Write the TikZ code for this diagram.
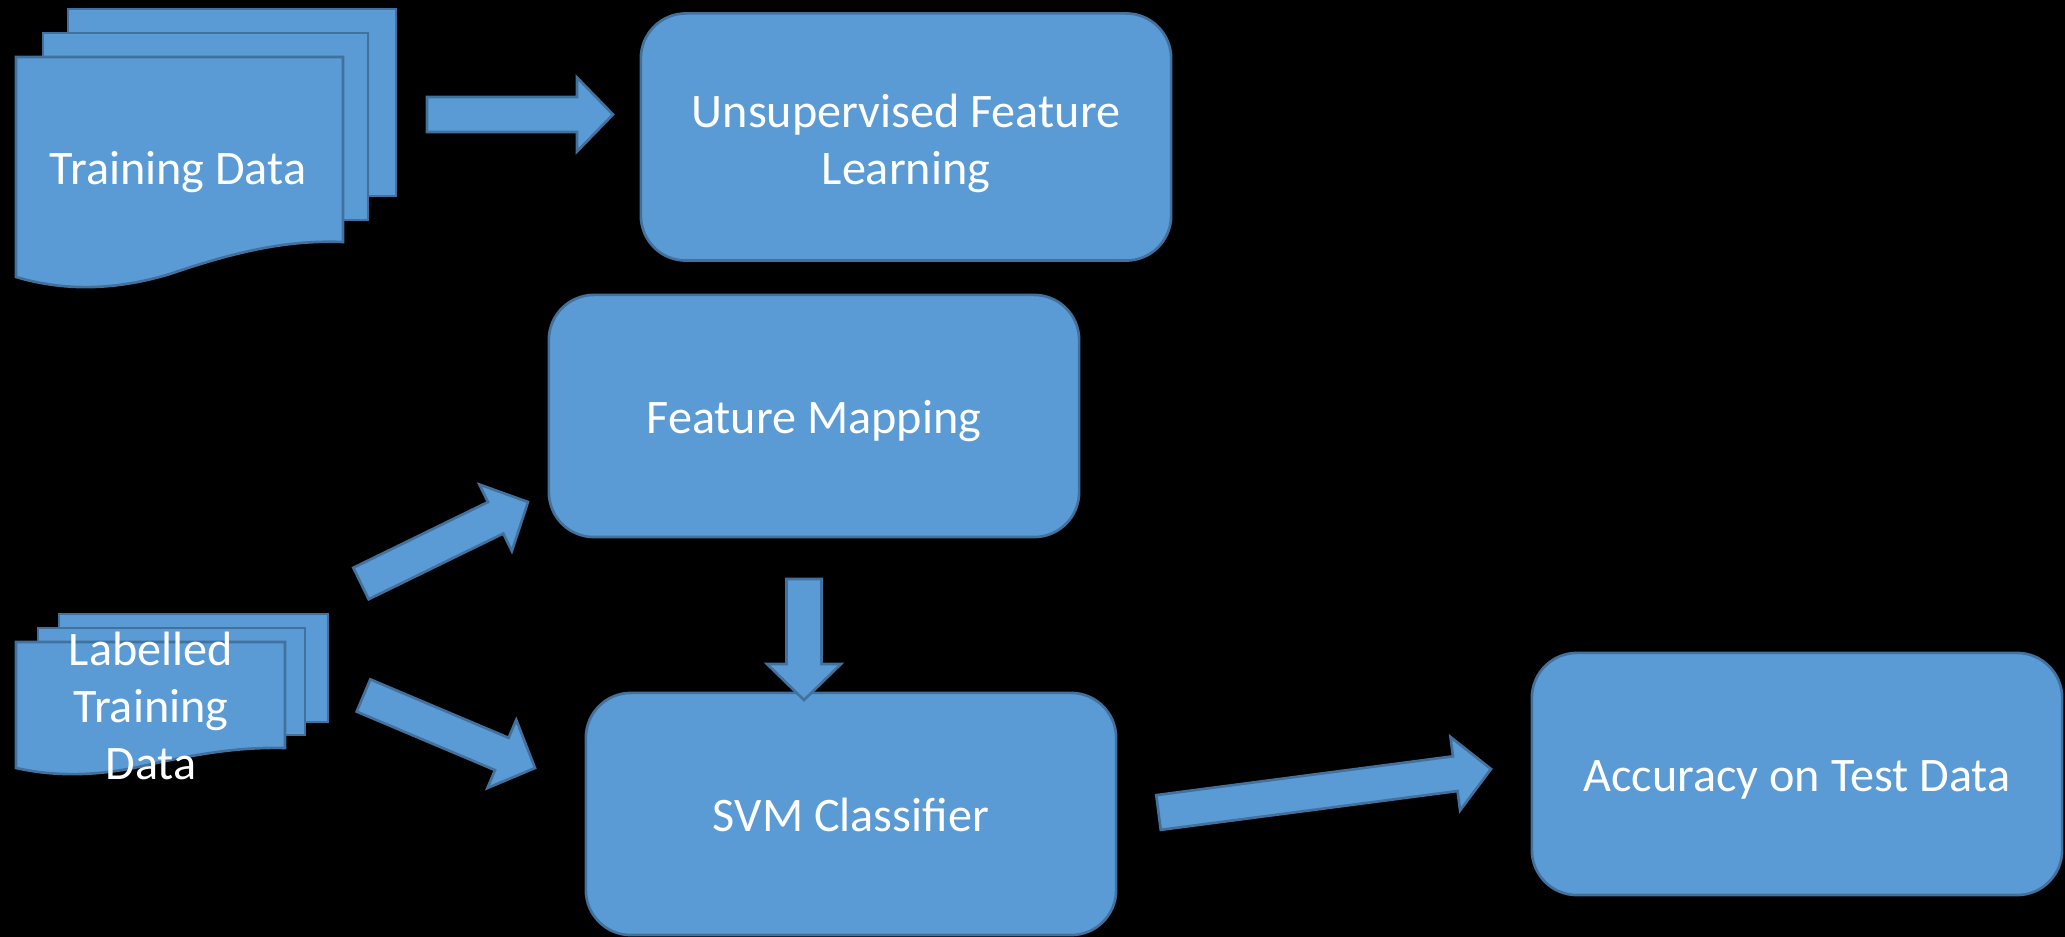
\documentclass[tikz,border=0pt]{standalone}
\usepackage{fontspec}
\setmainfont{Carlito}
\usetikzlibrary{calc}

\definecolor{boxfill}{HTML}{5B9BD5}
\definecolor{boxline}{HTML}{41719C}

% block arrow from #1 to #2
\newcommand{\bigarrow}[2]{%
  \coordinate (neck) at ($(#2)!0.36cm!(#1)$);
  \draw[flow] ($(#1)!0.175cm!90:(#2)$) -- ($(neck)!0.175cm!90:(#2)$)
    -- ($(neck)!0.37cm!90:(#2)$) -- (#2) -- ($(neck)!0.37cm!-90:(#2)$)
    -- ($(neck)!0.175cm!-90:(#2)$) -- ($(#1)!0.175cm!-90:(#2)$) -- cycle;}

\begin{document}
\begin{tikzpicture}[x=0.01cm, y=-0.01cm,
  every node/.style={font=\fontsize{13.7}{16.1}\selectfont, text=white},
  sheet/.style={fill=boxfill, draw=boxline, line width=0.75pt},
  stagebox/.style={sheet, rounded corners=0.45cm, minimum width=5.3cm, minimum height=2.42cm, align=center},
  stage/.style={stagebox, text height=1.2em, text depth=0.22em},
  flow/.style={fill=boxfill, draw=boxline, line width=0.75pt}]

  % Background
  \useasboundingbox (0,0) rectangle (2065,937);
  \fill[black] (0,0) rectangle (2065,937);

  % Training data stack
  \draw[sheet] (68,9) rectangle (396,196);
  \draw[sheet] (43,33) rectangle (368,220);
  \draw[sheet] (16,57) -- (343,57) -- (343,242) .. controls (290,240) and (240,250) .. (170,274)
    .. controls (110,292) and (60,290) .. (16,277) -- cycle;
  \node (train) at (178,172) {Training Data};

  % Labelled training data stack
  \draw[sheet] (59,614) rectangle (328,722);
  \draw[sheet] (38,628) rectangle (305,735);
  \draw[sheet] (16,642) -- (285,642) -- (285,748) .. controls (241,747) and (200,753) .. (143,766)
    .. controls (93,777) and (52,776) .. (16,768) -- cycle;
  \node[align=center] (labelled) at (151,706) {Labelled\\Training\\Data};

  % Stages
  \node[stagebox, minimum height=2.47cm, text height=26.8pt, text depth=0pt] (ufl) at (906,137) {Unsupervised Feature\\Learning};
  \node[stage] (fmap) at (814,416) {Feature Mapping};
  \node[stage] (svm) at (851,814) {SVM Classifier};
  \node[stage] (acc) at (1797,774) {Accuracy on Test Data};

  % Arrow ends
  \coordinate (train-out) at (427,114.5);
  \coordinate (ufl-in) at (613,114.5);
  \coordinate (lab-up) at (361,583.5);
  \coordinate (fmap-in) at (528,502);
  \coordinate (lab-down) at (363.5,695.5);
  \coordinate (svm-in) at (535,768);
  \coordinate (fmap-out) at (804,579);
  \coordinate (svm-top) at (804,700);
  \coordinate (svm-out) at (1158.5,812.5);
  \coordinate (acc-in) at (1491,769);

  % Arrows
  \bigarrow{train-out}{ufl-in}
  \bigarrow{lab-up}{fmap-in}
  \bigarrow{lab-down}{svm-in}
  \bigarrow{fmap-out}{svm-top}
  \bigarrow{svm-out}{acc-in}

\end{tikzpicture}
\end{document}
